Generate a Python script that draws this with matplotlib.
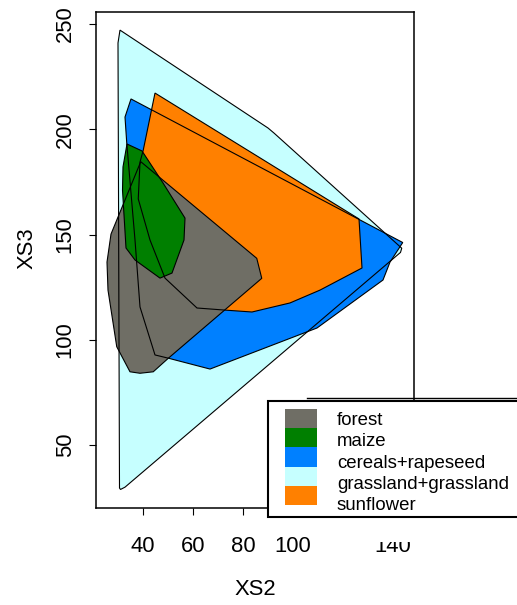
import matplotlib
matplotlib.use("Agg")
import matplotlib.pyplot as plt
from matplotlib.patches import Polygon, Rectangle

plt.rcParams['font.family'] = ['Liberation Sans', 'DejaVu Sans']

# ---- data (XS2, XS3 hull vertices per land-use class) ----
categories = ["forest", "maize", "cereals+rapeseed", "grassland+grassland", "sunflower"]
colors = {"forest": "#6F6E65", "maize": "#007F00", "cereals+rapeseed": "#0080FF",
          "grassland+grassland": "#C6FFFF", "sunflower": "#FF8000"}

grass_x = [30.8, 30.0, 30.6, 31.0, 32.8, 143.0, 143.5, 92.4, 90.0]
grass_y = [247.1, 241.0, 29.6, 28.9, 30.0, 141.5, 143.5, 198.2, 200.6]

cereal_x = [35.2, 32.8, 33.5, 36.8, 38.8, 44.8, 50.0, 66.8, 109.6, 136.0, 138.8, 143.9]
cereal_y = [214.4, 205.8, 193.5, 147.4, 115.6, 92.8, 91.3, 86.1, 105.6, 128.4, 136.9, 146.2]

sun_x = [44.8, 40.1, 38.8, 38.1, 42.8, 48.8, 61.6, 72.8, 83.6, 98.8, 110.8, 127.6, 126.4]
sun_y = [217.2, 190.1, 184.4, 166.9, 147.4, 129.3, 115.1, 114.1, 113.2, 117.5, 123.6, 134.1, 157.4]

forest_x = [39.1, 27.2, 25.6, 26.0, 29.5, 34.8, 38.8, 44.1, 50.1, 87.5, 85.5]
forest_y = [184.6, 150.2, 136.9, 123.6, 96.7, 84.8, 84.1, 84.8, 91.2, 129.2, 138.7]

maize_x = [33.6, 39.6, 48.0, 56.8, 56.4, 51.6, 46.8, 36.8, 33.2, 31.8, 32.0]
maize_y = [193.0, 189.7, 174.5, 157.8, 147.4, 131.7, 129.3, 137.9, 143.6, 171.1, 182.1]

draw_order = [("grassland+grassland", grass_x, grass_y),
              ("cereals+rapeseed", cereal_x, cereal_y),
              ("sunflower", sun_x, sun_y),
              ("forest", forest_x, forest_y),
              ("maize", maize_x, maize_y)]

xticks = [40, 60, 80, 100, 120, 140]
xticklabels = ["40", "60", "80", "100", "", "140"]
yticks = [50, 100, 150, 200, 250]

W, H = 517, 605
fig = plt.figure(figsize=(W / 100, H / 100), dpi=100)
ax = fig.add_axes([96 / W, (H - 508) / H, (414 - 96) / W, (508 - 12) / H])

for name, xs, ys in draw_order:
    ax.add_patch(Polygon(list(zip(xs, ys)), closed=True, facecolor=colors[name],
                         edgecolor='none', zorder=1))
for name, xs, ys in draw_order:
    ax.add_patch(Polygon(list(zip(xs, ys)), closed=True, facecolor='none',
                         edgecolor='black', linewidth=0.8, zorder=2))

ax.set_xlim(21.2, 148.4)
ax.set_ylim(20.1, 255.7)
ax.set_xticks(xticks)
ax.set_xticklabels(xticklabels)
ax.set_yticks(yticks)
ax.set_yticklabels([str(v) for v in yticks], rotation=90, va='center')
ax.tick_params(axis='both', direction='out', length=5, width=0.8, labelsize=15.8)
ax.tick_params(axis='x', pad=15.2)
ax.tick_params(axis='y', pad=9.5)
for s in ax.spines.values():
    s.set_linewidth(1.1)

ax.set_xlabel("XS2", fontsize=15.8)
ax.set_ylabel("XS3", fontsize=15.8)
ax.xaxis.set_label_coords(0.5, -0.143)
ax.yaxis.set_label_coords(-0.185, 0.524)

# ---- legend overlay (pixel coordinates) ----
lax = fig.add_axes([0, 0, 1, 1], zorder=5)
lax.set_xlim(0, W)
lax.set_ylim(H, 0)
lax.axis('off')
lax.patch.set_visible(False)

# white mask hiding the top of the "140" label
lax.add_patch(Rectangle((360, 515), 70, 27, facecolor='white', edgecolor='none'))
lax.plot([307, W], [398, 398], color='black', lw=1.0)
lax.add_patch(Rectangle((268, 401), 260, 116, facecolor='white', edgecolor='black', lw=1.5))
row_h = 19.2
text_step = 21.25
for i, name in enumerate(categories):
    y0 = 409 + i * row_h
    lax.add_patch(Rectangle((285, y0), 32, row_h, facecolor=colors[name], edgecolor='none'))
    lax.text(337, 425 + i * text_step, name, fontsize=13.4, va='baseline', ha='left')

fig.savefig("out.png", dpi=100)
